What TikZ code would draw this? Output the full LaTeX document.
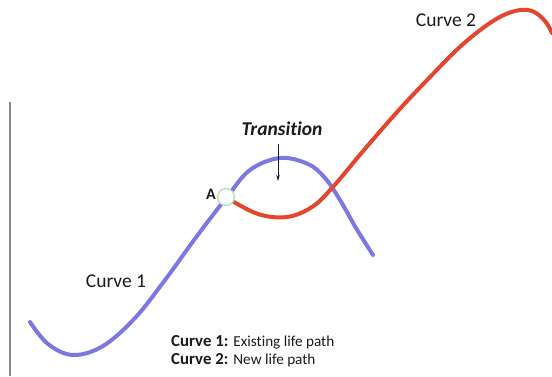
\documentclass[tikz,border=0pt]{standalone}
\usepackage{fontspec}
\setmainfont{Carlito}[Ligatures={NoCommon,NoRare,NoDiscretionary}]
\usetikzlibrary{arrows.meta}
\definecolor{curveblue}{HTML}{7B78E4}
\definecolor{curvered}{HTML}{E5452C}
\definecolor{axisgray}{HTML}{8A8A8A}
\definecolor{ringgreen}{HTML}{A9DDB4}
\definecolor{txt}{HTML}{1A1A1A}
\tikzset{
  curveline/.style={line width=4pt, line cap=round, line join=round},
  biglabel/.style={font=\fontsize{19.5}{23}\selectfont, text=txt, inner sep=0pt},
  legendtext/.style={font=\fontsize{15.2}{18}\selectfont, text=txt, inner sep=0pt, anchor=base west, align=left},
}
\newcommand{\legkey}[1]{{\fontsize{16.8}{18}\selectfont\bfseries #1}}
\begin{document}
\begin{tikzpicture}[x=1pt,y=-1pt]
\useasboundingbox (0,0) rectangle (552,376);
% vertical axis
\draw[axisgray, line width=1.5pt] (10,102) -- (10,376);
% curve 1 (blue)
\draw[curveline, curveblue] plot[smooth, tension=0.6] coordinates {
  (30,322) (48,344) (73,355) (103,346) (135,318) (165,280) (197,236) (227,197)
  (250,170) (280,158) (308,164) (325,178) (340,200) (356,228) (373,255)};
% curve 2 (red)
\draw[curveline, curvered] plot[smooth, tension=0.6] coordinates {
  (229,199) (258,214) (287,217) (312,207) (332,188) (364,150) (398,111)
  (430,77) (462,45) (493,21) (515,11) (532,11) (545,21) (552,33)};
% point A
\node[circle, draw=ringgreen, fill=white, line width=1.2pt, minimum size=17pt, inner sep=0pt] (ptA) at (226,197) {};
\node[font=\fontsize{16}{18}\selectfont\bfseries, text=txt, inner sep=0pt] (labA) at (211,194) {A};
% labels
\node[biglabel, font=\fontsize{19.5}{23}\selectfont\bfseries\itshape] (trans) at (282,129) {Transition};
\coordinate (transend) at (278,181);
\draw[-{Stealth[length=6pt,width=3.5pt]}, line width=0.9pt, txt] (trans.south -| transend) ++(0,8) -- (transend);
\node[biglabel] (c1) at (116,281) {Curve 1};
\node[biglabel] (c2) at (446,20) {Curve 2};
% legend
\node[legendtext] (legend) at (171,346) {%
  \begin{tabular}[t]{@{}l@{\hspace{5pt}}l@{}}
  \legkey{Curve 1:} & Existing life path\\
  \legkey{Curve 2:} & New life path
  \end{tabular}};
\end{tikzpicture}
\end{document}
